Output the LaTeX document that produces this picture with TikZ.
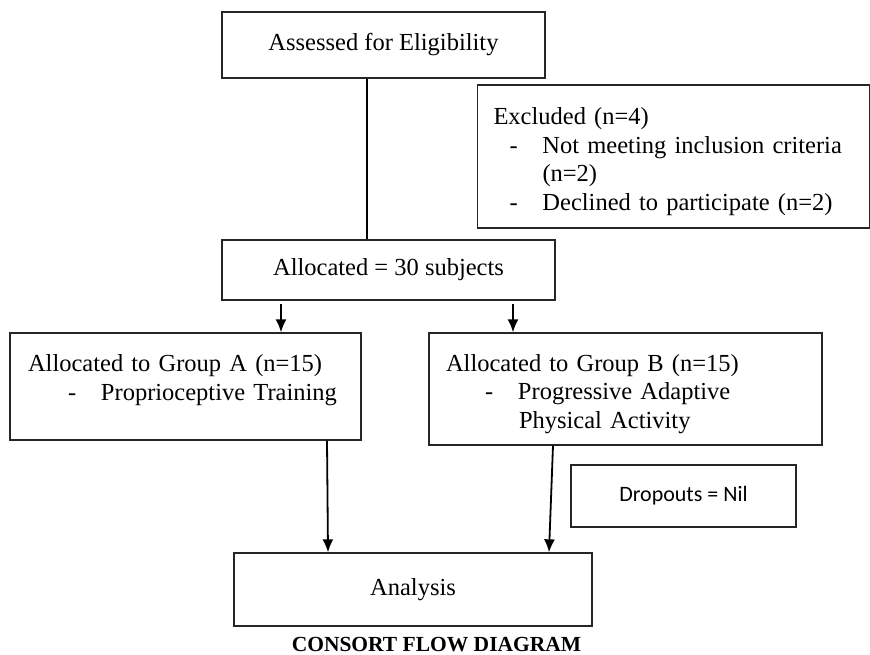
\documentclass[tikz,border=0pt]{standalone}
\usepackage{fontspec}
\setmainfont{Liberation Serif}
\newfontfamily\calfont{Carlito}
\usetikzlibrary{arrows.meta}
\newcommand{\dashitem}[2]{\mbox{\hspace*{#1}\makebox[33pt][l]{-}#2}}
\newcommand{\topstrut}{\rule{0pt}{27pt}}
\begin{document}
\begin{tikzpicture}[x=1pt, y=-1pt, >={Latex[length=13pt,width=11pt]},
  box/.style={draw=black!85, line width=1.3pt, inner sep=0pt, align=center,
    font=\fontsize{24.5}{28.5}\selectfont},
  listbox/.style={box, align=left, inner xsep=#1},
  arr/.style={->, line width=1.8pt}]
\useasboundingbox (0,0) rectangle (870,655);
% Cribado
\node[box, minimum width=323, minimum height=66] (assess) at (383.5,45) {Assessed for Eligibility};
\node[listbox=16pt, text width=360pt, minimum height=143] (excl) at (673.5,156.5)
  {\topstrut Excluded (n=4)\\ \dashitem{16pt}{Not meeting inclusion criteria}\\ \hspace*{49pt}(n=2)\\ \dashitem{16pt}{Declined to participate (n=2)}};
\node[box, minimum width=333, minimum height=60] (alloc) at (388.5,270) {Allocated = 30 subjects};
% Grupos
\node[listbox=18pt, text width=315pt, minimum height=107] (grpA) at (185.5,386.5)
  {\topstrut Allocated to Group A (n=15)\\ \dashitem{40pt}{Proprioceptive Training}\\ \mbox{}};
\node[listbox=17pt, text width=359pt, minimum height=112] (grpB) at (625.5,389)
  {\topstrut Allocated to Group B (n=15)\\ \dashitem{39pt}{Progressive Adaptive}\\ \hspace*{73pt}Physical Activity};
\node[box, minimum width=225, minimum height=62, font=\calfont\fontsize{22}{26}\selectfont] (drop) at (683.5,496) {Dropouts = Nil};
\node[box, minimum width=358, minimum height=73] (anal) at (413,589.5) {Analysis};
\node[font=\bfseries\fontsize{21.5}{24}\selectfont, inner sep=0pt] (title) at (436.5,645) {CONSORT FLOW DIAGRAM};
% Conectores
\draw[line width=1.8pt] ([xshift=-16.5pt]assess.south) -- ([xshift=-21.5pt]alloc.north);
\draw[arr] ([xshift=-107.5pt,yshift=-3pt]alloc.south) -- ([xshift=-107.5pt]alloc.south |- grpA.north);
\draw[arr] ([xshift=124.5pt,yshift=-3pt]alloc.south) -- ([xshift=124.5pt]alloc.south |- grpB.north);
\draw[arr] ([xshift=141.5pt]grpA.south) -- ([xshift=-85pt]anal.north);
\draw[arr] ([xshift=-72.5pt]grpB.south) -- ([xshift=136pt]anal.north);
\end{tikzpicture}
\end{document}
